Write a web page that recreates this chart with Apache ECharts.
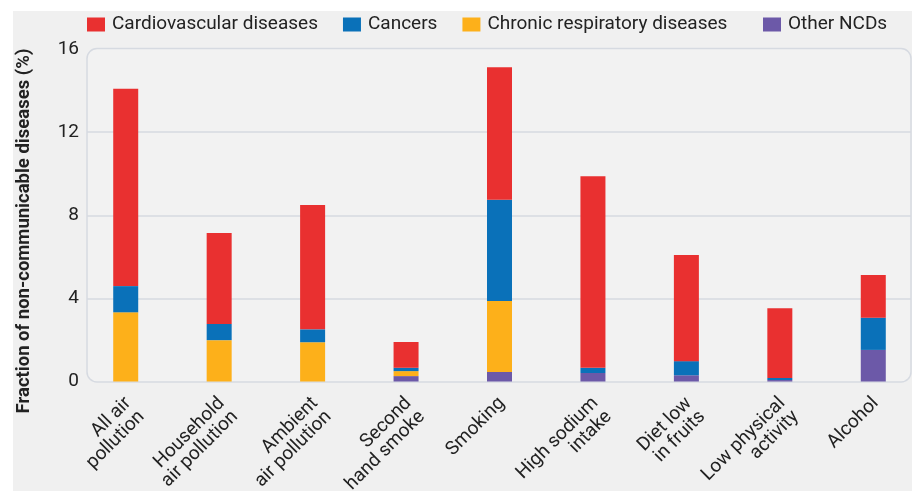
<!DOCTYPE html>
<html>
<head>
<meta charset="utf-8">
<script src="https://cdn.jsdelivr.net/npm/echarts@6/dist/echarts.min.js"></script>
<style>html,body{margin:0;padding:0;background:#fff;}#chart{width:914px;height:491px;}</style>
</head>
<body>
<div id="chart"></div>
<script>
var categories = ['All air\npollution', 'Household\nair pollution', 'Ambient\nair pollution', 'Second\nhand smoke', 'Smoking', 'High sodium\nintake', 'Diet low\nin fruits', 'Low physical\nactivity', 'Alcohol'];
var otherNCDs = [0, 0, 0, 0.26, 0.46, 0.41, 0.30, 0.07, 1.52];
var respiratory = [3.33, 1.99, 1.89, 0.24, 3.41, 0, 0, 0, 0];
var cancers = [1.26, 0.78, 0.62, 0.16, 4.87, 0.25, 0.68, 0.10, 1.55];
var cardiovascular = [9.5, 4.37, 5.98, 1.24, 6.38, 9.22, 5.11, 3.36, 2.05];
var yTicks = [0, 4, 8, 12, 16];

var FONT = 'Roboto';
var chart = echarts.init(document.getElementById('chart'));
function bar(name, data, color) {
  return {name: name, type: 'bar', stack: 'total', data: data, barWidth: 25,
    itemStyle: {color: color}, xAxisIndex: 0, yAxisIndex: 0};
}
var legendBase = {
  top: 15, padding: 0, itemWidth: 18, itemHeight: 14, itemGap: 25,
  icon: 'rect',
  textStyle: {fontFamily: FONT, fontSize: 19, color: '#222', padding: [0, 0, 0, 2]}
};
chart.setOption({
  backgroundColor: '#ffffff',
  animation: false,
  textStyle: {fontFamily: FONT},
  legend: [
    Object.assign({}, legendBase, {left: 87, data: ['Cardiovascular diseases', 'Cancers', 'Chronic respiratory diseases']}),
    Object.assign({}, legendBase, {left: 763, data: ['Other NCDs']})
  ],
  graphic: [
    {type: 'rect', z: -10, shape: {x: 13, y: 11, width: 899, height: 480}, style: {fill: '#f0f0f0'}},
    {type: 'rect', z: -5, shape: {x: 87, y: 48.5, width: 824, height: 333.5, r: 10}, style: {fill: '#f2f2f2', stroke: '#d6dae1', lineWidth: 1.5}},
    {type: 'text', z: 5, x: 24, y: 231, rotation: Math.PI / 2,
      style: {text: 'Fraction of non-communicable diseases (%)', font: 'bold 18.5px Roboto', fill: '#222', textAlign: 'center', textVerticalAlign: 'middle'}}
  ],
  grid: [
    {left: 79, width: 841, top: 49, bottom: 109.5, containLabel: false, outerBoundsMode: 'none'},
    {left: 87, width: 824, top: 49, bottom: 109.5, containLabel: false, outerBoundsMode: 'none'}
  ],
  xAxis: [
    {type: 'category', gridIndex: 0, data: categories,
      axisLine: {show: false}, axisTick: {show: false},
      axisLabel: {rotate: 45, margin: 8, fontSize: 19, lineHeight: 19, color: '#222', fontFamily: FONT, interval: 0, align: 'right', verticalAlign: 'top', padding: [0, 6, 0, 0]}},
    {type: 'value', gridIndex: 1, show: false, min: 0, max: 1}
  ],
  yAxis: [
    {type: 'value', gridIndex: 0, min: 0, max: 16, interval: 4,
      axisLine: {show: false}, axisTick: {show: false}, splitLine: {show: false},
      axisLabel: {margin: 0, fontSize: 19, color: '#222', fontFamily: FONT,
        formatter: function (v) { return yTicks.indexOf(v) >= 0 ? String(v) : ''; }}},
    {type: 'value', gridIndex: 1, min: 0, max: 16, interval: 4,
      axisLine: {show: false}, axisTick: {show: false}, axisLabel: {show: false},
      splitLine: {show: true, lineStyle: {color: ['rgba(0,0,0,0)', '#d6dae1', '#d6dae1', '#d6dae1', 'rgba(0,0,0,0)'], width: 1.5}}}
  ],
  series: [
    bar('Other NCDs', otherNCDs, '#6c59a8'),
    bar('Chronic respiratory diseases', respiratory, '#fdb01a'),
    bar('Cancers', cancers, '#0a71b9'),
    bar('Cardiovascular diseases', cardiovascular, '#e93030')
  ]
});
</script>
</body>
</html>
